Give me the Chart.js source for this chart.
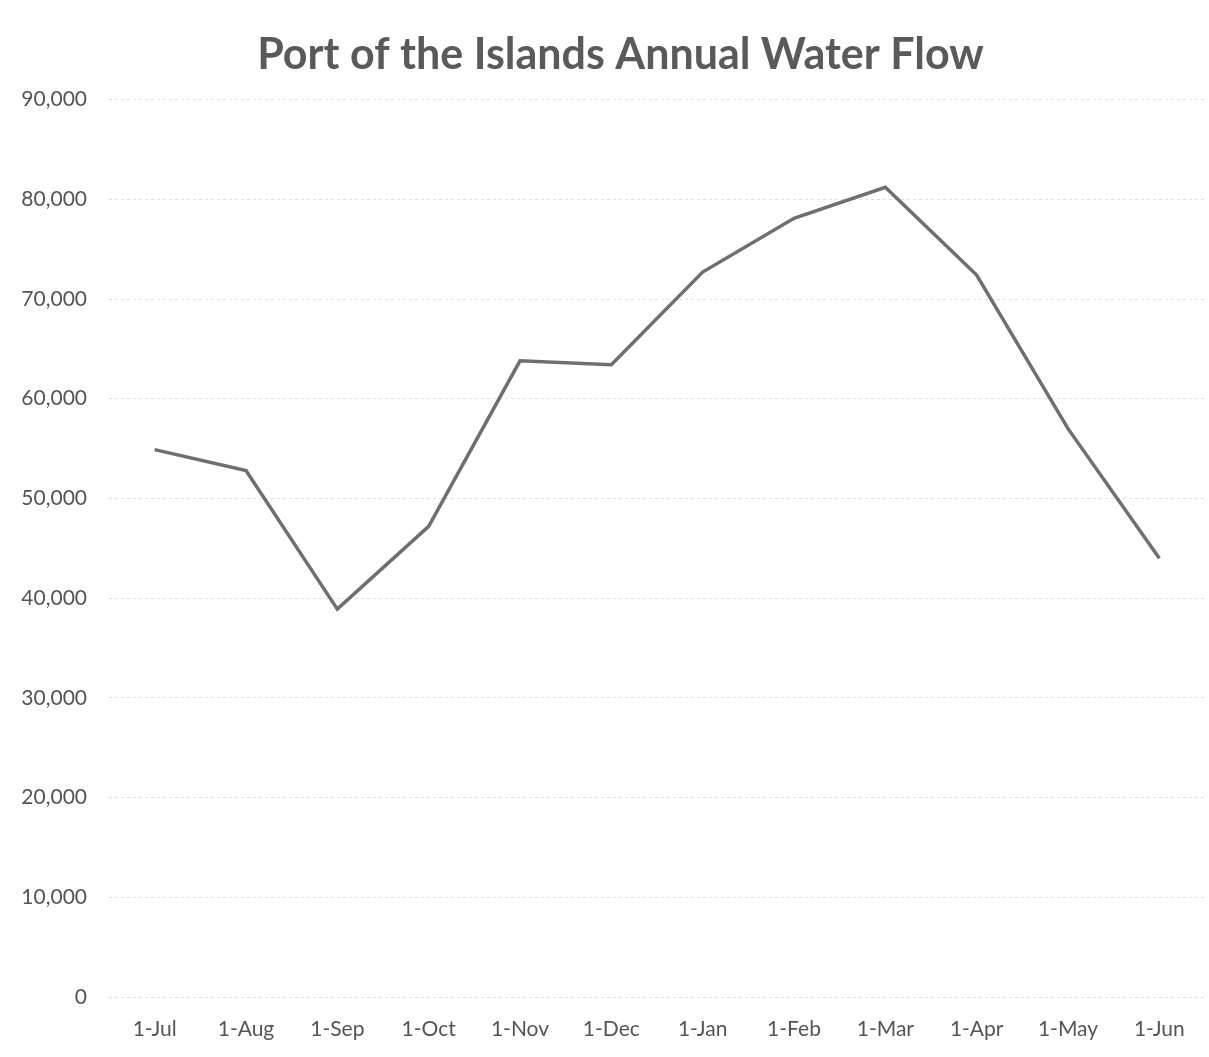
<!DOCTYPE html>
<html>
<head>
<meta charset="utf-8">
<script src="https://cdn.jsdelivr.net/npm/chart.js@4"></script>
<style>
html,body{margin:0;padding:0;background:#fff;}
#wrap{width:1209px;height:1057px;position:relative;}
</style>
</head>
<body>
<div id="wrap"><canvas id="c" width="1209" height="1057"></canvas></div>
<script>
const categories = ["1-Jul","1-Aug","1-Sep","1-Oct","1-Nov","1-Dec","1-Jan","1-Feb","1-Mar","1-Apr","1-May","1-Jun"];
const waterFlow = [54900, 52800, 38900, 47200, 63800, 63400, 72700, 78100, 81200, 72400, 57000, 44000];
const yTicks = [0, 10000, 20000, 30000, 40000, 50000, 60000, 70000, 80000, 90000];
const titleText = "Port of the Islands Annual Water Flow";

const shiftTitle = {
  id: 'shiftTitle',
  afterLayout(chart) {
    if (chart.titleBlock) { chart.titleBlock.left = 36; }
  }
};

new Chart(document.getElementById('c'), {
  type: 'line',
  data: {
    labels: categories,
    datasets: [{
      data: waterFlow,
      borderColor: '#6f6f72',
      borderWidth: 3.5,
      pointRadius: 0,
      tension: 0,
      fill: false
    }]
  },
  plugins: [shiftTitle],
  options: {
    responsive: false,
    animation: false,
    layout: { padding: { left: 0, right: 4, top: 0, bottom: 0 } },
    plugins: {
      legend: { display: false },
      tooltip: { enabled: false },
      title: {
        display: true,
        text: titleText,
        color: '#5a5a5a',
        font: { family: 'Lato', size: 43, weight: 'bold' },
        padding: { top: 29, bottom: 19 }
      }
    },
    scales: {
      x: {
        offset: true,
        grid: { display: false },
        border: { display: false },
        ticks: {
          color: '#555555',
          font: { family: 'Lato', size: 21 },
          padding: 12,
          maxRotation: 0
        },
        afterFit: s => { s.height = 60; }
      },
      y: {
        min: 0, max: 90000,
        afterBuildTicks: s => { s.ticks = yTicks.map(v => ({ value: v })); },
        grid: { color: '#dedede', lineWidth: 1, drawTicks: false },
        border: { display: false, dash: [3, 3] },
        ticks: {
          color: '#555555',
          font: { family: 'Lato', size: 21 },
          padding: 22,
          callback: v => v.toLocaleString('en-US')
        },
        afterFit: s => { s.width = 109; }
      }
    }
  }
});
</script>
</body>
</html>
